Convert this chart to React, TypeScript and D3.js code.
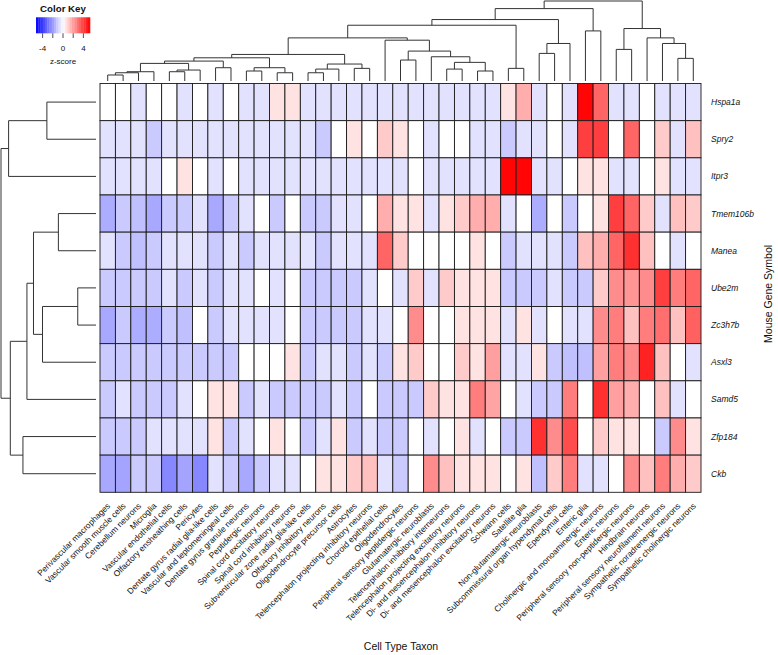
import * as d3 from "d3";

// genes (rows, top to bottom) and cell types (columns, left to right), in dendrogram order
const genes = ["Hspa1a", "Spry2", "Itpr3", "Tmem106b", "Manea", "Ube2m", "Zc3h7b", "Asxl3", "Samd5", "Zfp184", "Ckb"];

const cellTypes = [
  "Perivascular macrophages", "Vascular smooth muscle cells", "Cerebellum neurons", "Microglia",
  "Vascular endothelial cells", "Olfactory ensheathing cells", "Pericytes",
  "Dentate gyrus radial glia-like cells", "Vascular and leptomeningeal cells",
  "Dentate gyrus granule neurons", "Peptidergic neurons", "Spinal cord excitatory neurons",
  "Spinal cord inhibitory neurons", "Subventricular zone radial glia-like cells",
  "Olfactory inhibitory neurons", "Oligodendrocyte precursor cells", "Astrocytes",
  "Telencephalon projecting inhibitory neurons", "Choroid epithelial cells", "Oligodendrocytes",
  "Peripheral sensory peptidergic neurons", "Glutamatergic neuroblasts",
  "Telencephalon inhibitory interneurons", "Telencephalon projecting excitatory neurons",
  "Di- and mesencephalon inhibitory neurons", "Di- and mesencephalon excitatory neurons",
  "Schwann cells", "Satellite glia", "Non-glutamatergic neuroblasts",
  "Subcommissural organ hypendymal cells", "Ependymal cells", "Enteric glia",
  "Cholinergic and monoaminergic neurons", "Enteric neurons",
  "Peripheral sensory non-peptidergic neurons", "Hindbrain neurons",
  "Peripheral sensory neurofilament neurons", "Sympathetic noradrenergic neurons",
  "Sympathetic cholinergic neurons",
];

// z-scores per gene, one value per cell type
const zHspa1a = [0, 0, -0.6, 0, 0, -0.6, 0, -0.6, 0, -0.6, -0.6, 0.6, 0.6, -0.6, -0.6, -0.6, -0.6, -0.6, -0.6, -0.6, -0.6, -0.6, -0.6, -0.6, -0.6, -0.6, 0.6, 1.7, -0.6, 0, -0.6, 5.2, 3.2, -0.6, -0.6, 0, -0.6, -0.6, -0.6];
const zSpry2 = [-0.6, -0.6, -0.6, -1.1, -0.6, -0.6, -0.6, -0.6, -0.6, -0.6, -0.6, -0.6, -0.6, -0.6, -1.1, 0, 0.6, 0, 1.1, 0.6, 0, -0.6, 0, 0, -0.6, -0.6, -1.1, -0.6, -0.6, 0, -0.6, 4.0, 4.0, 0, 3.2, 0, 1.1, -0.6, 1.3];
const zItpr3 = [-0.6, -0.6, -0.6, -0.6, 0, 0.6, 0, -0.6, 0, -0.6, -0.6, -0.6, -0.6, -0.6, -0.6, -0.6, -0.6, -0.6, -0.6, -0.6, 0, -0.6, -0.6, -0.6, -0.6, -0.6, 5.2, 5.2, -0.6, -0.6, 0, 0.6, 0.6, -0.6, -0.6, 0, 0.6, -0.6, -0.6];
const zTmem106b = [-1.7, -1.1, -1.3, -1.8, -1.1, -1.1, -0.6, -1.8, -1.1, -0.6, 0, -1.1, 0, -1.1, -1.1, -0.6, -0.6, 0, 1.7, 0.6, 0.6, -0.6, 0.6, 1.1, 1.7, 1.7, -0.6, 0, -1.7, 0, -1.1, 0, 0.6, 4.0, 3.2, 1.1, -0.6, 1.3, 1.1];
const zManea = [-0.6, -1.1, -1.3, -1.1, -0.6, -0.6, -0.6, -1.1, -0.6, -1.1, -0.6, -0.6, -0.6, -0.6, -1.1, -0.6, -0.6, -0.6, 3.2, 1.1, 0, 0, 0, 0, 0.6, 0, -1.1, -0.6, -0.6, -0.6, -1.1, 1.3, 1.7, 3.2, 4.3, 1.3, 0, -0.6, 0];
const zUbe2m = [-1.1, -1.1, -1.1, -1.1, -0.6, -1.1, -0.6, -1.1, -0.6, -0.6, 0, -0.6, 0, -1.1, -1.1, -1.1, -1.1, -0.6, 0, -0.6, 1.1, -0.6, 1.1, 0.6, 0.6, 0.6, -1.1, -1.1, -1.1, -0.6, -1.1, -1.1, 1.1, 2.4, 2.2, 2.4, 4.0, 2.7, 3.2];
const zZc3h7b = [-1.8, -1.1, -1.7, -1.7, -1.1, -1.3, 0, -1.1, -0.6, -0.6, -0.6, -0.6, 0, -1.1, -1.1, -1.1, -1.1, -0.6, -0.6, 0, 2.4, 0, 0, 0.6, 0.6, 0.6, -0.6, 0.6, -0.6, 0, -0.6, -0.6, 2.4, 2.7, 1.3, 2.7, 3.0, 1.3, 3.3];
const zAsxl3 = [-1.1, -1.1, -1.1, -1.1, -1.1, -1.1, -1.1, -1.1, -1.1, 0, 0, 0, 0.6, -1.1, -0.6, -0.6, -1.1, -0.6, -1.1, 0.6, 1.1, 0, 0, 1.1, 0.6, 2.0, -0.6, -0.6, 0.6, -1.1, -1.3, -1.3, 2.0, 2.7, 2.4, 4.6, 1.3, 0, -0.6];
const zSamd5 = [-1.1, -0.6, -1.1, -1.1, -1.1, -0.6, 0, 0.6, 0.6, -1.1, -0.6, -1.1, -1.1, -1.1, -1.1, -0.6, -1.1, 0, -1.1, -1.1, -1.1, 1.1, 0.6, 0.6, 2.7, 1.9, 0, -0.6, -1.1, -1.1, 2.7, 0, 4.3, 2.0, 1.7, 0, 1.3, -0.6, 0];
const zZfp184 = [-1.1, -1.1, -1.1, -0.6, -0.6, -0.6, -0.6, 0.6, -1.1, -0.6, 0, 0.6, 0, -1.1, -0.6, 0.6, -1.1, -0.6, -1.1, -1.1, 0, -0.6, 0, 0.6, -0.6, 0, -1.1, -1.1, 4.3, 2.4, 3.7, 0, 1.1, 0.6, 0.6, 0, -1.1, 2.4, 0.6];
const zCkb = [-1.8, -1.9, -1.1, -1.1, -2.5, -1.9, -2.5, -0.6, -1.1, -1.8, -1.1, -0.6, -0.6, 0, 0.6, 0.6, 1.1, 1.3, -0.6, -1.1, 0, 2.4, 1.3, 0.6, 0.6, 0.6, 0, 0.6, -1.3, 1.1, 2.7, -0.6, -0.6, 0, 2.4, 1.3, 2.7, 1.7, 1.1];

const zScores = [zHspa1a, zSpry2, zItpr3, zTmem106b, zManea, zUbe2m, zZc3h7b, zAsxl3, zSamd5, zZfp184, zCkb];

// hclust-style merges: negative = leaf (1-based), positive = earlier merge (1-based), then height
const colMerges: [number, number, number][] = [
  [-1, -2, 7.5], [1, -3, 10.3], [2, -4, 11.6], [-5, -6, 11.6], [4, -7, 13.7], [3, 5, 22],
  [-8, -9, 16.6], [6, 7, 24.9], [-10, -11, 12.5], [-12, -13, 10.3], [9, 10, 16.6], [8, 11, 29],
  [-14, -15, 10.3], [13, -16, 14.9], [-17, -18, 15.8], [14, 15, 21.2], [12, 16, 33.2],
  [-20, -21, 26.2], [-23, -24, 14.9], [-25, -26, 12.5], [19, 20, 23.3], [-22, 21, 30.3],
  [18, 22, 37.4], [-19, 23, 51], [17, 24, 53.9], [-27, -28, 15.8], [25, 26, 69.7],
  [-29, -30, 34.5], [28, -31, 46.9], [27, 29, 76.8], [-32, -33, 62.6], [30, 31, 90.5],
  [-34, -35, 39.5], [-38, -39, 28.3], [-37, 34, 46.9], [-36, 35, 53.9], [33, 36, 65.6],
  [32, 37, 100],
];

const rowMerges: [number, number, number][] = [
  [-1, -2, 51.7], [1, -3, 92], [-4, -5, 39.6], [-6, -7, 19.2], [4, -8, 56.3],
  [3, 5, 65.8], [6, -9, 72.7], [-10, -11, 76.9], [7, 8, 90.2], [2, 9, 100],
];

const keyTicks = [-4, -2, 0, 2, 4];
const keyLabels = [-4, 0, 4];

const font = "'Liberation Sans', Arial, Helvetica, sans-serif";

function dendro(merges: [number, number, number][], leafPos: (i: number) => number) {
  const pos: number[] = [];
  const hts: number[] = [];
  const get = (r: number) => (r < 0 ? { p: leafPos(-r - 1), h: 0 } : { p: pos[r - 1], h: hts[r - 1] });
  return merges.map(([a, b, h], i) => {
    const A = get(a);
    const B = get(b);
    pos[i] = (A.p + B.p) / 2;
    hts[i] = h;
    return { A, B, h };
  });
}

export default function App() {
  const width = 778;
  const height = 655;

  const x = d3.scaleBand<number>().domain(d3.range(cellTypes.length)).range([100, 701]);
  const y = d3.scaleBand<number>().domain(d3.range(genes.length)).range([83.5, 492.3]);

  const color = d3
    .scaleLinear<string>()
    .domain([-5.3, 0, 5.3])
    .range(["#0000ff", "#ffffff", "#ff0000"])
    .clamp(true);

  const colH = d3.scaleLinear().domain([0, 100]).range([81, 1]);
  const rowH = d3.scaleLinear().domain([0, 100]).range([96, 1]);

  const colLinks = dendro(colMerges, (i) => x(i)! + x.bandwidth() / 2);
  const rowLinks = dendro(rowMerges, (i) => y(i)! + y.bandwidth() / 2);

  const keyX = d3.scaleLinear().domain([-5.3, 5.3]).range([36, 90]);
  const keySteps = d3.range(-5.3, 5.3, 10.6 / 24);
  const [gTop, gBottom] = y.range();

  return (
    <svg
      width={width}
      height={height}
      style={{ position: "absolute", left: 0, top: 0, background: "#fff" }}
      fontFamily={font}
    >
      {/* heatmap cells */}
      <g>
        {zScores.map((row, r) =>
          row.map((v, c) => (
            <rect
              key={`${r}-${c}`}
              x={x(c)}
              y={y(r)}
              width={x.bandwidth()}
              height={y.bandwidth()}
              fill={color(v)}
              stroke="#1a1a1a"
              strokeWidth={0.9}
            />
          ))
        )}
      </g>

      {/* column dendrogram */}
      <g fill="none" stroke="#333" strokeWidth={1}>
        {colLinks.map((d, i) => (
          <path
            key={i}
            d={`M${d.A.p},${colH(d.A.h)}V${colH(d.h)}H${d.B.p}V${colH(d.B.h)}`}
          />
        ))}
      </g>

      {/* row dendrogram */}
      <g fill="none" stroke="#333" strokeWidth={1}>
        {rowLinks.map((d, i) => (
          <path
            key={i}
            d={`M${rowH(d.A.h)},${d.A.p}H${rowH(d.h)}V${d.B.p}H${rowH(d.B.h)}`}
          />
        ))}
      </g>

      {/* row labels */}
      <g fontSize={8.5} fontStyle="italic" fill="#111">
        {genes.map((g, i) => (
          <text key={g} x={711} y={y(i)! + y.bandwidth() / 2} dominantBaseline="central">
            {g}
          </text>
        ))}
      </g>

      {/* column labels */}
      <g fontSize={8.4} fill="#111">
        {cellTypes.map((c, i) => (
          <text
            key={c}
            transform={`translate(${x(i)! + x.bandwidth() / 2 + 1},${gBottom + 12}) rotate(-45)`}
            textAnchor="end"
            dominantBaseline="central"
          >
            {c}
          </text>
        ))}
      </g>

      {/* axis titles */}
      <text x={401} y={650} fontSize={10.5} textAnchor="middle" fill="#111">
        Cell Type Taxon
      </text>
      <text
        transform={`translate(768,${(gTop + gBottom) / 2 + 6}) rotate(-90)`}
        fontSize={10.5}
        textAnchor="middle"
        dominantBaseline="central"
        fill="#111"
      >
        Mouse Gene Symbol
      </text>

      {/* color key */}
      <g>
        <text x={63} y={11.5} fontSize={9.7} fontWeight="bold" textAnchor="middle" fill="#111">
          Color Key
        </text>
        {keySteps.map((v, i) => (
          <rect
            key={i}
            x={keyX(v)}
            y={17.3}
            width={keyX(v + 10.6 / 24) - keyX(v) + 0.3}
            height={16}
            fill={color(v + 10.6 / 48)}
          />
        ))}
        <g stroke="#222" strokeWidth={0.8}>
          {keyTicks.map((t) => (
            <line key={t} x1={keyX(t)} x2={keyX(t)} y1={33.3} y2={38} />
          ))}
        </g>
        <g fontSize={8} textAnchor="middle" fill="#111">
          {keyLabels.map((t) => (
            <text key={t} x={keyX(t)} y={51}>
              {t}
            </text>
          ))}
          <text x={63} y={64}>
            z-score
          </text>
        </g>
      </g>
    </svg>
  );
}
